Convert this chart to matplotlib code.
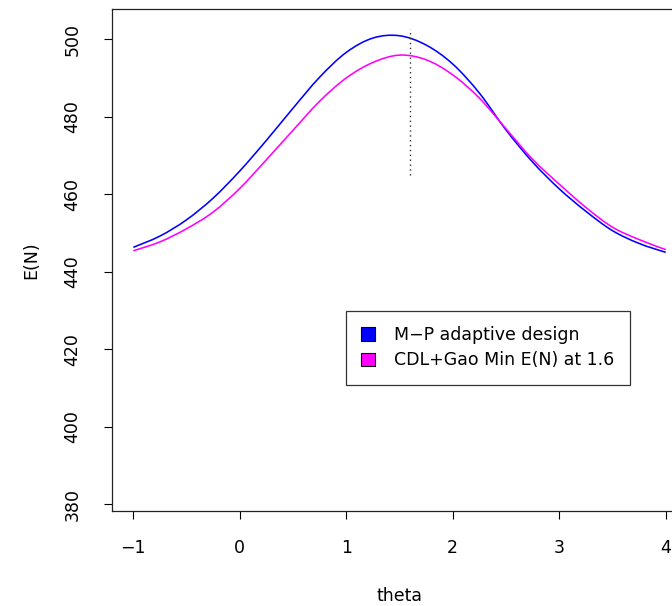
import matplotlib
matplotlib.use("Agg")
import matplotlib.pyplot as plt
from matplotlib.patches import Patch, PathPatch
from matplotlib.path import Path

plt.rcParams["font.family"] = ["DejaVu Sans"]
plt.rcParams["font.size"] = 12.5

# Data
theta = [-1.0, -0.75, -0.5, -0.25, 0.0, 0.25, 0.5, 0.75, 1.0, 1.25, 1.5,
         1.75, 2.0, 2.25, 2.5, 2.75, 3.0, 3.25, 3.5, 3.75, 4.0]
en_mp = [446.3, 449.2, 453.4, 459.0, 466.0, 473.9, 482.2, 490.2, 496.6, 500.3, 500.9,
         498.5, 493.6, 486.1, 476.6, 468.3, 461.4, 455.6, 450.6, 447.3, 445.0]
en_cdl = [445.4, 447.7, 451.1, 455.4, 461.5, 468.9, 476.5, 484.0, 490.0, 494.0, 495.9,
          494.7, 490.8, 484.8, 476.9, 469.0, 462.6, 456.6, 451.5, 448.3, 445.7]
min_theta = 1.6
min_seg = [465.0, 502.6]

labels = ["M\u2212P adaptive design", "CDL+Gao Min E(N) at 1.6"]
colors = ["#0000FF", "#FF00FF"]

xticks = [-1, 0, 1, 2, 3, 4]
yticks = [380, 400, 420, 440, 460, 480, 500]


def smooth_path(xs, ys):
    # Catmull-Rom through the read points, drawn as cubic Bezier segments
    pts = list(zip(xs, ys))
    verts = [pts[0]]
    codes = [Path.MOVETO]
    n = len(pts)
    for i in range(n - 1):
        p0 = pts[max(i - 1, 0)]
        p1 = pts[i]
        p2 = pts[i + 1]
        p3 = pts[min(i + 2, n - 1)]
        c1 = (p1[0] + (p2[0] - p0[0]) / 6, p1[1] + (p2[1] - p0[1]) / 6)
        c2 = (p2[0] - (p3[0] - p1[0]) / 6, p2[1] - (p3[1] - p1[1]) / 6)
        verts += [c1, c2, p2]
        codes += [Path.CURVE4] * 3
    return Path(verts, codes)


# ── Layout (R-style base plot, right side runs off the image) ────────────────
fig = plt.figure(figsize=(6.72, 6.06), dpi=100)
ax = fig.add_axes([112 / 672, 95 / 606, 575 / 672, 502 / 606])

for ys, c in zip([en_mp, en_cdl], colors):
    ax.add_patch(PathPatch(smooth_path(theta, ys), facecolor="none",
                           edgecolor=c, linewidth=1.15))
ax.plot([min_theta, min_theta], min_seg, color="#333333", linewidth=1.0,
        linestyle=(0, (1, 2.5)))

ax.set_xlim(-1.2, 4.2)
ax.set_ylim(378.25, 507.8)
ax.set_xticks(xticks)
ax.set_xticklabels(["\u22121", "0", "1", "2", "3", "4"])
ax.set_yticks(yticks)
ax.set_yticklabels([str(v) for v in yticks], rotation=90, va="center")
ax.tick_params(axis="x", direction="out", length=6, width=0.8, pad=14)
ax.tick_params(axis="y", direction="out", length=6, width=0.8, pad=16)
for s in ax.spines.values():
    s.set_linewidth(0.9)
    s.set_color("#222222")

ax.set_xlabel("theta", labelpad=22)
ax.set_ylabel("E(N)", labelpad=17)

handles = [Patch(facecolor=c, edgecolor="black", linewidth=0.8) for c in colors]
leg = ax.legend(handles, labels, loc="upper left", bbox_to_anchor=(0.407, 0.399),
                frameon=True, fancybox=False, edgecolor="black",
                handlelength=0.8, handleheight=0.8, handletextpad=1.1,
                labelspacing=0.42, borderpad=0.88, borderaxespad=0.0)
leg.get_frame().set_linewidth(0.9)

fig.savefig("out.png", dpi=100)
